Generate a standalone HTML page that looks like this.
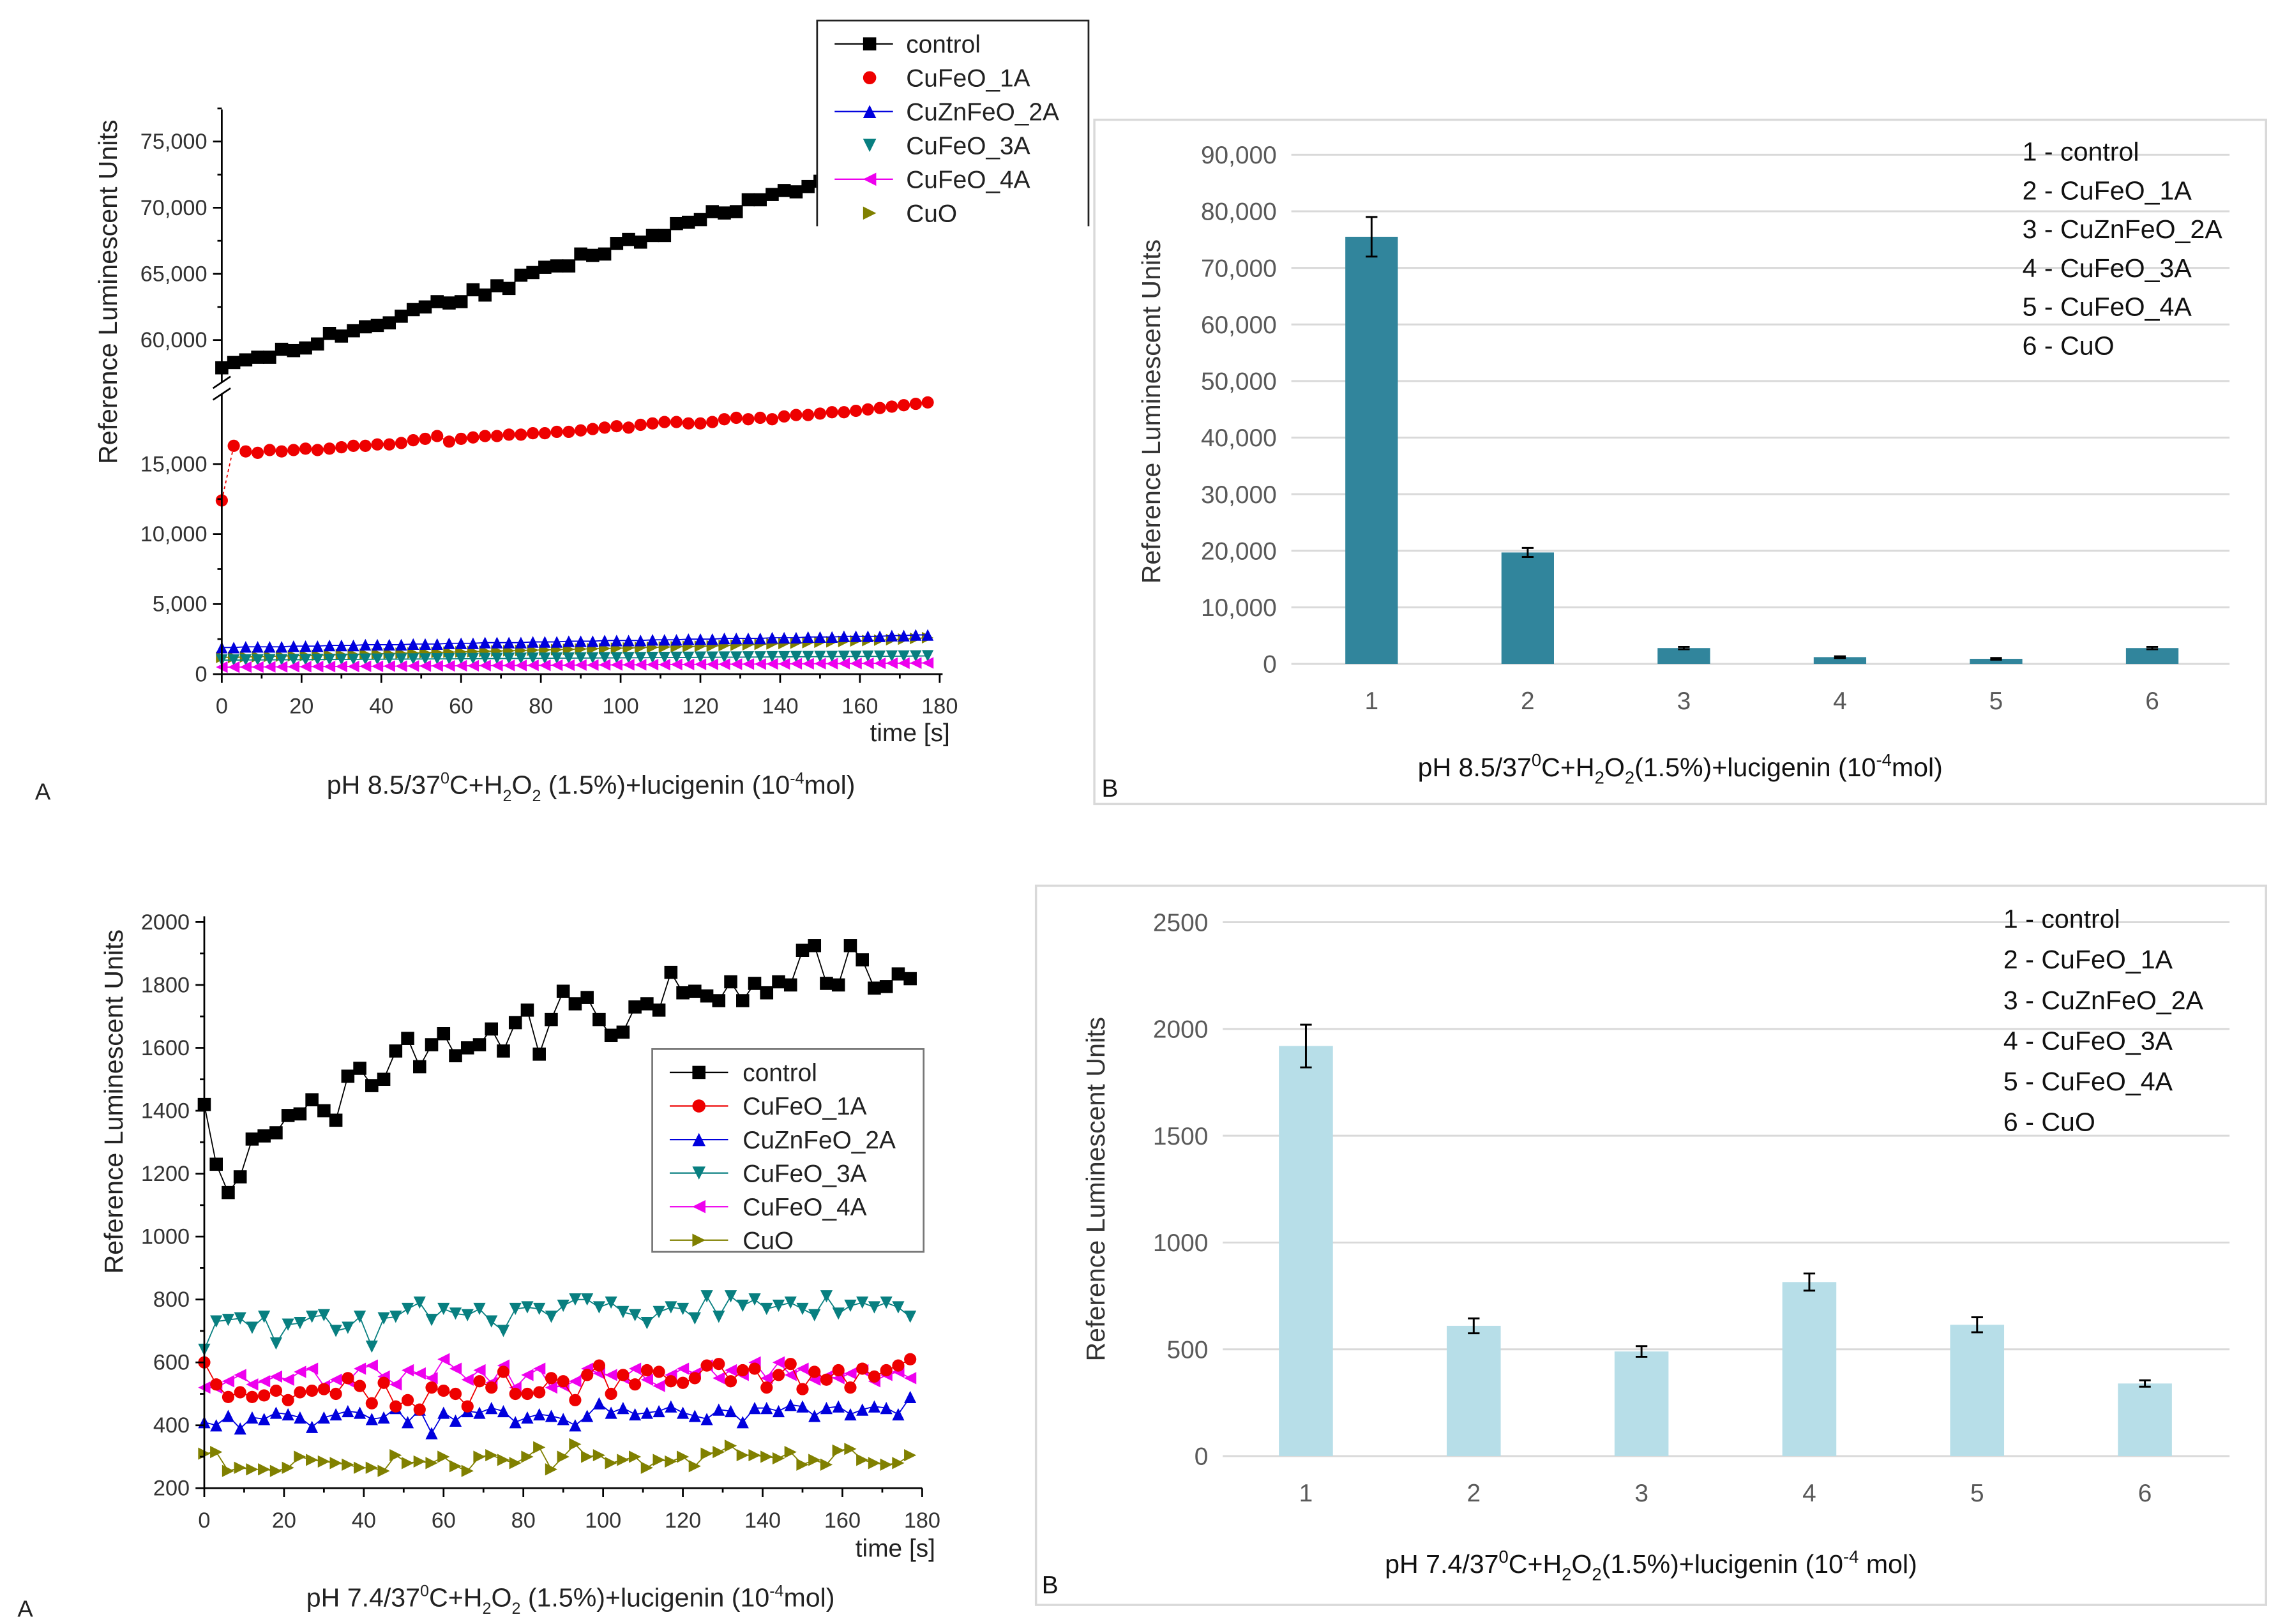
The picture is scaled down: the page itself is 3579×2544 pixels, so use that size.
<!DOCTYPE html>
<html><head><meta charset="utf-8"><style>html,body{margin:0;padding:0;background:#fff}svg{display:block}text{font-family:"Liberation Sans",Arial,sans-serif}</style></head>
<body>
<svg id="fig" width="3579" height="2544" viewBox="0 0 1566 1113" xmlns="http://www.w3.org/2000/svg">
<g id="pa1"></g>
<g id="pb1"></g>
<g id="pa2"></g>
<g id="pb2"></g>
</svg>
<script>
// ---------- Data: panel A (pH 8.5) ----------
const a1Control=[57900,58300,58500,58700,58700,59300,59200,59400,59700,60500,60300,60700,61000,61100,61300,61800,62300,62500,62900,62800,62900,63800,63400,64100,63900,64900,65100,65500,65600,65600,66500,66400,66500,67300,67600,67400,67900,67900,68800,68900,69100,69700,69600,69700,70600,70600,71000,71300,71200,71600,72000,72200,72400,72700,72900,73100,73300,73500,73700,73900];
const a1Cu1A=[12400,16300,15900,15800,16000,15900,16000,16100,16000,16100,16200,16300,16300,16400,16400,16500,16700,16800,17000,16600,16800,16900,17000,17000,17100,17100,17200,17200,17300,17300,17400,17500,17600,17700,17600,17800,17900,18000,18000,17900,17900,18000,18200,18300,18200,18300,18200,18400,18500,18500,18600,18700,18700,18800,18900,19000,19100,19200,19300,19400];
const a1Zn2A=[1900,1900,1950,1950,1950,1950,2000,2000,2000,2050,2050,2050,2100,2100,2100,2100,2150,2150,2150,2200,2200,2200,2250,2250,2250,2250,2300,2300,2300,2350,2350,2350,2400,2400,2400,2400,2450,2450,2450,2500,2500,2500,2550,2550,2550,2550,2600,2600,2600,2650,2650,2650,2700,2700,2700,2700,2750,2750,2800,2800];
const a1Cu3A=[1000,1000,1010,1010,1020,1020,1030,1030,1040,1040,1050,1050,1060,1060,1070,1070,1080,1080,1090,1090,1100,1100,1110,1110,1120,1120,1130,1130,1140,1140,1150,1150,1160,1160,1170,1170,1180,1180,1190,1190,1200,1200,1210,1210,1220,1220,1230,1230,1240,1240,1250,1250,1260,1260,1270,1270,1280,1280,1290,1300];
const a1Cu4A=[500,500,510,510,520,520,530,530,540,540,550,550,560,560,570,570,580,580,590,590,600,600,610,610,620,620,630,630,640,640,650,650,660,660,670,670,680,680,690,690,700,700,710,710,720,720,730,730,740,740,750,750,760,760,770,770,780,780,790,800];
const a1CuO=[1200,1200,1230,1250,1270,1290,1310,1330,1350,1370,1390,1410,1430,1450,1470,1490,1510,1530,1550,1570,1590,1610,1630,1650,1670,1690,1710,1730,1750,1770,1790,1810,1830,1850,1870,1890,1910,1930,1950,1970,1990,2010,2040,2070,2100,2130,2160,2190,2220,2250,2280,2310,2340,2370,2400,2430,2460,2500,2550,2600];
const a1YTicksLow=[0,5000,10000,15000];
const a1YTicksHigh=[60000,65000,70000,75000];
const xTicks=[0,20,40,60,80,100,120,140,160,180];
// ---------- Data: panel A (pH 7.4) ----------
const a2Control=[1420,1230,1140,1190,1310,1320,1330,1385,1390,1435,1400,1370,1510,1535,1480,1500,1590,1630,1540,1610,1645,1575,1600,1610,1660,1590,1680,1720,1580,1690,1780,1740,1760,1690,1640,1650,1730,1740,1720,1840,1775,1780,1765,1750,1810,1750,1805,1775,1810,1800,1910,1925,1805,1800,1925,1880,1790,1795,1835,1820];
const a2Cu1A=[600,530,490,505,490,495,510,480,505,510,515,500,550,525,470,535,460,480,450,520,510,500,460,540,520,570,500,500,505,550,540,480,560,590,500,560,530,575,570,540,535,550,590,595,540,575,580,520,560,595,515,570,545,575,520,580,555,575,590,610];
const a2Zn2A=[410,400,430,390,425,420,440,435,425,395,425,435,445,440,420,425,455,410,450,375,440,415,445,440,455,445,410,425,435,430,420,400,430,470,440,455,435,440,445,460,440,430,420,450,445,410,455,455,445,465,460,430,455,460,435,450,460,455,435,490];
const a2Cu3A=[640,730,735,740,710,745,660,720,725,745,750,700,710,745,650,740,745,770,790,735,770,755,750,770,730,700,770,775,770,745,780,800,800,775,790,760,750,725,760,775,770,740,810,745,810,780,800,770,780,790,770,750,810,755,780,790,775,790,775,745];
const a2Cu4A=[520,520,540,560,530,540,555,545,570,580,525,545,540,580,590,555,530,575,565,550,610,580,545,575,535,590,520,560,580,520,525,540,580,565,560,550,580,545,525,560,580,565,590,550,575,560,600,550,600,560,580,545,555,550,565,575,540,560,570,550];
const a2CuO=[310,315,255,265,260,260,255,265,300,290,285,280,275,265,265,255,305,280,285,280,300,270,255,300,305,290,280,300,330,260,300,340,300,305,280,290,300,265,290,285,300,270,310,315,335,305,305,300,295,315,275,290,275,320,325,290,280,275,280,305];
const a2YTicks=[200,400,600,800,1000,1200,1400,1600,1800,2000];
// ---------- Data: bar panels ----------
const barCats=["1","2","3","4","5","6"];
const legendLabels=["1 - control","2 - CuFeO_1A","3 - CuZnFeO_2A","4 - CuFeO_3A","5 - CuFeO_4A","6 - CuO"];
const b1Values=[75500,19700,2800,1200,900,2800];
const b1Errors=[3500,800,200,150,150,200];
const b1YTicks=[0,10000,20000,30000,40000,50000,60000,70000,80000,90000];
const b2Values=[1920,610,490,815,615,340];
const b2Errors=[100,35,25,40,35,15];
const b2YTicks=[0,500,1000,1500,2000,2500];

const NS="http://www.w3.org/2000/svg";
function mk(parent,tag,attrs,txt){const e=document.createElementNS(NS,tag);for(const k in attrs)e.setAttribute(k,attrs[k]);if(txt!==undefined)e.textContent=txt;parent.appendChild(e);return e;}
const fmt=v=>v.toLocaleString('en-US');

function marker(g,type,x,y,s,col){
  let e;
  if(type==='sq') e=mk(g,'rect',{x:x-s,y:y-s,width:2*s,height:2*s,fill:col});
  else if(type==='ci') e=mk(g,'circle',{cx:x,cy:y,r:s,fill:col});
  else if(type==='up') e=mk(g,'polygon',{points:`${x-s},${y+s} ${x+s},${y+s} ${x},${y-s}`,fill:col});
  else if(type==='dn') e=mk(g,'polygon',{points:`${x-s},${y-s} ${x+s},${y-s} ${x},${y+s}`,fill:col});
  else if(type==='lf') e=mk(g,'polygon',{points:`${x+s},${y-s} ${x+s},${y+s} ${x-s},${y}`,fill:col});
  else e=mk(g,'polygon',{points:`${x-s},${y-s} ${x-s},${y+s} ${x+s},${y}`,fill:col});
  return e;
}
function series(g,name,vals,xs,ys,type,col,s,dash){
  const sg=mk(g,'g',{});
  
  
  const pts=vals.map((v,i)=>`${xs(i*3)},${ys(v)}`).join(' ');
  mk(sg,'polyline',{points:pts,fill:'none',stroke:col,'stroke-width':0.8,'stroke-dasharray':dash||'none'});
  vals.forEach((v,i)=>{const m=marker(sg,type,xs(i*3),ys(v),s,col);
    
    });
}
function legend(g,x,y,w,h,items,dy,fs,frameCol){
  const lg=mk(g,'g',{});
  
  
  mk(lg,'rect',{x,y,width:w,height:h,fill:'#fff',stroke:frameCol,'stroke-width':1.2});
  items.forEach((it,i)=>{const yy=y+16+i*dy;
    const eg=mk(lg,'g',{});
    
    
    mk(eg,'line',{x1:x+12,x2:x+52,y1:yy,y2:yy,stroke:it[2],'stroke-width':1});
    marker(eg,it[1],x+32,yy,it[3]||4.5,it[2]);
    mk(eg,'text',{x:x+62,y:yy+6,'font-size':fs,fill:'#222'},it[0]);});
}
const items=[["control","sq","#000"],["CuFeO_1A","ci","#e00"],["CuZnFeO_2A","up","#00d"],["CuFeO_3A","dn","#087f80"],["CuFeO_4A","lf","#e0e"],["CuO","rt","#808000"]];

// ---------- Panel A1 ----------
(function(){
  const g=document.getElementById('pa1');
  const x0=152,x1=644;
  const xs=t=>x0+(t/180)*(x1-x0);
  const ys=v=>v>=50000?233-(v-60000)*0.00907:462-v*0.0096;
  series(g,'series-cuo',a1CuO,xs,ys,'rt','#808000',4);
  series(g,'series-cufeo-3a',a1Cu3A,xs,ys,'dn','#087f80',4);
  series(g,'series-cufeo-4a',a1Cu4A,xs,ys,'lf','#e0e',4);
  series(g,'series-cuznfeo-2a',a1Zn2A,xs,ys,'up','#00d',4);
  series(g,'series-cufeo-1a',a1Cu1A,xs,ys,'ci','#e00',4.2,'2,2');
  series(g,'series-control',a1Control,xs,ys,'sq','#000',4.5);
  const ax=mk(g,'g',{'stroke':'#000','stroke-width':1.2});
  
  
  mk(ax,'line',{x1:x0,x2:x0,y1:75,y2:262});
  mk(ax,'line',{x1:x0,x2:x0,y1:270,y2:462});
  mk(ax,'line',{x1:x0,x2:x1+2,y1:462,y2:462});
  mk(ax,'line',{x1:x0-6,x2:x0+6,y1:266,y2:258});
  mk(ax,'line',{x1:x0-6,x2:x0+6,y1:274,y2:266});
  a1YTicksLow.forEach(v=>{const y=ys(v);mk(ax,'line',{x1:x0-6,x2:x0,y1:y,y2:y});
    mk(g,'text',{x:x0-10,y:y+5,'font-size':15,'text-anchor':'end',fill:'#333'},fmt(v));
    if(v<15000){const y2=ys(v+2500);mk(ax,'line',{x1:x0-3,x2:x0,y1:y2,y2:y2});}});
  a1YTicksHigh.forEach(v=>{const y=ys(v);mk(ax,'line',{x1:x0-6,x2:x0,y1:y,y2:y});
    mk(g,'text',{x:x0-10,y:y+5,'font-size':15,'text-anchor':'end',fill:'#333'},fmt(v));
    const y2=ys(v+2500);mk(ax,'line',{x1:x0-3,x2:x0,y1:y2,y2:y2});});
  xTicks.forEach(t=>{const x=xs(t);mk(ax,'line',{x1:x,x2:x,y1:462,y2:468});
    if(t<180)mk(ax,'line',{x1:xs(t+10),x2:xs(t+10),y1:462,y2:465});
    mk(g,'text',{x:x,y:489,'font-size':15,'text-anchor':'middle',fill:'#333'},t);});
  mk(g,'text',{x:651,y:508,'font-size':17,'text-anchor':'end',fill:'#222'},'time [s]');
  mk(g,'text',{x:80,y:200,'font-size':18,'text-anchor':'middle',fill:'#222',transform:'rotate(-90 80 200)'},'Reference Luminescent Units');
  const l=mk(g,'g',{});
  
  
  mk(l,'rect',{x:560,y:14,width:186,height:142,fill:'#fff',stroke:'none'});
  mk(l,'polyline',{points:'560,155 560,14 746,14 746,155',fill:'none',stroke:'#222','stroke-width':1.2});
  items.forEach((it,i)=>{const yy=30+i*23.2;
    const eg=mk(l,'g',{});
    
    
    if(i!==1&&i!==3&&i!==5)mk(eg,'line',{x1:572,x2:612,y1:yy,y2:yy,stroke:it[2],'stroke-width':1});
    marker(eg,it[1],596,yy,4.5,it[2]);
    mk(eg,'text',{x:621,y:yy+6,'font-size':17,fill:'#222'},it[0]);});
  const t=mk(g,'text',{x:405,y:544,'font-size':18,'text-anchor':'middle',fill:'#222'});
  t.innerHTML='pH 8.5/37<tspan dy="-7" font-size="11">0</tspan><tspan dy="7">C+H</tspan><tspan dy="5" font-size="11">2</tspan><tspan dy="-5">O</tspan><tspan dy="5" font-size="11">2</tspan><tspan dy="-5"> (1.5%)+lucigenin (10</tspan><tspan dy="-7" font-size="11">-4</tspan><tspan dy="7">mol)</tspan>';
  mk(g,'text',{x:24,y:548,'font-size':16,fill:'#222'},'A');
})();

// ---------- Panel A2 ----------
(function(){
  const g=document.getElementById('pa2');
  const x0=140,x1=632;
  const xs=t=>x0+(t/180)*(x1-x0);
  const ys=v=>1020-(v-200)*0.2156;
  series(g,'series-cuo',a2CuO,xs,ys,'rt','#808000',4.2);
  series(g,'series-cuznfeo-2a',a2Zn2A,xs,ys,'up','#00d',4.2);
  series(g,'series-cufeo-4a',a2Cu4A,xs,ys,'lf','#e0e',4.2);
  series(g,'series-cufeo-1a',a2Cu1A,xs,ys,'ci','#e00',4.2);
  series(g,'series-cufeo-3a',a2Cu3A,xs,ys,'dn','#087f80',4.2);
  series(g,'series-control',a2Control,xs,ys,'sq','#000',4.5);
  const ax=mk(g,'g',{'stroke':'#000','stroke-width':1.2});
  
  
  mk(ax,'line',{x1:x0,x2:x0,y1:628,y2:1020});
  mk(ax,'line',{x1:x0,x2:x1,y1:1020,y2:1020});
  a2YTicks.forEach(v=>{const y=ys(v);mk(ax,'line',{x1:x0-6,x2:x0,y1:y,y2:y});
    if(v<2000){const y2=ys(v+100);mk(ax,'line',{x1:x0-3,x2:x0,y1:y2,y2:y2});}
    mk(g,'text',{x:x0-10,y:y+5,'font-size':15,'text-anchor':'end',fill:'#333'},v);});
  xTicks.forEach(t=>{const x=xs(t);mk(ax,'line',{x1:x,x2:x,y1:1020,y2:1026});
    if(t<180)mk(ax,'line',{x1:xs(t+10),x2:xs(t+10),y1:1020,y2:1023});
    mk(g,'text',{x:x,y:1047,'font-size':15,'text-anchor':'middle',fill:'#333'},t);});
  mk(g,'text',{x:641,y:1067,'font-size':17,'text-anchor':'end',fill:'#222'},'time [s]');
  mk(g,'text',{x:84,y:755,'font-size':18,'text-anchor':'middle',fill:'#222',transform:'rotate(-90 84 755)'},'Reference Luminescent Units');
  legend(g,447,719,186,139,items,23,17,'#777');
  const t=mk(g,'text',{x:391,y:1101,'font-size':18,'text-anchor':'middle',fill:'#222'});
  t.innerHTML='pH 7.4/37<tspan dy="-7" font-size="11">0</tspan><tspan dy="7">C+H</tspan><tspan dy="5" font-size="11">2</tspan><tspan dy="-5">O</tspan><tspan dy="5" font-size="11">2</tspan><tspan dy="-5"> (1.5%)+lucigenin (10</tspan><tspan dy="-7" font-size="11">-4</tspan><tspan dy="7">mol)</tspan>';
  mk(g,'text',{x:12,y:1108,'font-size':16,fill:'#222'},'A');
})();

// ---------- Bar panels ----------
function barPanel(id,frame,gx0,gx1,yTop,yBot,maxV,ticks,vals,errs,c0,dx,bw,col,fmtFn,ytX,ytY,legX,legY,legDy,title,titleY,bX,bY){
  const g=document.getElementById(id);
  const fr=mk(g,'rect',{x:frame[0],y:frame[1],width:frame[2],height:frame[3],fill:'#fff',stroke:'#d9d9d9','stroke-width':1.5});
  
  
  const ys=v=>yBot-(v/maxV)*(yBot-yTop);
  ticks.forEach(v=>{const y=ys(v);
    const gl=mk(g,'line',{x1:gx0,x2:gx1,y1:y,y2:y,stroke:'#d9d9d9','stroke-width':1.3});
    
    
    mk(g,'text',{x:gx0-10,y:y+6,'font-size':17,'text-anchor':'end',fill:'#595959'},fmtFn(v));});
  vals.forEach((v,i)=>{const cx=c0+i*dx;
    const b=mk(g,'rect',{x:cx-bw/2,y:ys(v),width:bw,height:yBot-ys(v),fill:col});
    
    
    const e=errs[i];const eg=mk(g,'g',{stroke:'#000','stroke-width':1.3});
    
    
    mk(eg,'line',{x1:cx,x2:cx,y1:ys(v+e),y2:ys(v-e)});
    mk(eg,'line',{x1:cx-4,x2:cx+4,y1:ys(v+e),y2:ys(v+e)});
    mk(eg,'line',{x1:cx-4,x2:cx+4,y1:ys(v-e),y2:ys(v-e)});
    mk(g,'text',{x:cx,y:yBot+31,'font-size':17,'text-anchor':'middle',fill:'#595959'},barCats[i]);});
  mk(g,'text',{x:ytX,y:ytY,'font-size':18,'text-anchor':'middle',fill:'#333',transform:`rotate(-90 ${ytX} ${ytY})`},'Reference Luminescent Units');
  const lg=mk(g,'g',{});
  
  
  legendLabels.forEach((s,i)=>{const t=mk(lg,'text',{x:legX,y:legY+i*legDy,'font-size':18,fill:'#111'},s);
    
    });
  const t=mk(g,'text',{x:(frame[0]+frame[0]+frame[2])/2,y:titleY,'font-size':18,'text-anchor':'middle',fill:'#111'});
  t.innerHTML=title;
  mk(g,'text',{x:bX,y:bY,'font-size':17,fill:'#111'},'B');
}
barPanel('pb1',[750,82,803,469],885,1528,106,455,90000,b1YTicks,b1Values,b1Errors,940,107,36,'#31859c',fmt,795,282,1386,110,26.6,
 'pH 8.5/37<tspan dy="-7" font-size="12">0</tspan><tspan dy="7">C+H</tspan><tspan dy="5" font-size="12">2</tspan><tspan dy="-5">O</tspan><tspan dy="5" font-size="12">2</tspan><tspan dy="-5">(1.5%)+lucigenin (10</tspan><tspan dy="-7" font-size="12">-4</tspan><tspan dy="7">mol)</tspan>',532,755,546);
barPanel('pb2',[710,607,843,493],838,1528,632,998,2500,b2YTicks,b2Values,b2Errors,895,115,37,'#b7dee8',v=>String(v),757,815,1373,636,27.8,
 'pH 7.4/37<tspan dy="-7" font-size="12">0</tspan><tspan dy="7">C+H</tspan><tspan dy="5" font-size="12">2</tspan><tspan dy="-5">O</tspan><tspan dy="5" font-size="12">2</tspan><tspan dy="-5">(1.5%)+lucigenin (10</tspan><tspan dy="-7" font-size="12">-4</tspan><tspan dy="7"> mol)</tspan>',1078,714,1092);
</script>
</body></html>
